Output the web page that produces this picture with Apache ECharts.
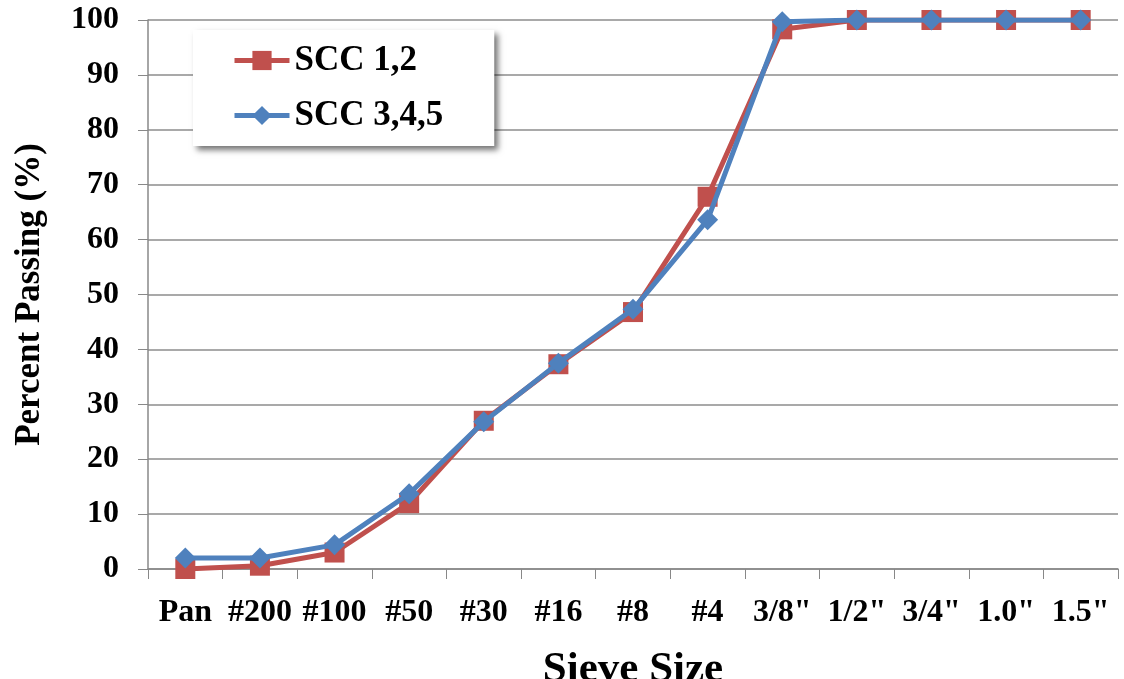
<!DOCTYPE html>
<html><head><meta charset="utf-8">
<script src="https://cdn.jsdelivr.net/npm/echarts@6/dist/echarts.min.js"></script>
<style>html,body{margin:0;padding:0;background:#fff}#c{width:1124px;height:679px}</style>
</head><body><div id="c"></div>
<script>
const categories = ['Pan', '#200', '#100', '#50', '#30', '#16', '#8', '#4', '3/8"', '1/2"', '3/4"', '1.0"', '1.5"'];
const scc12 = [0, 0.6, 3.0, 12.0, 27.0, 37.3, 46.8, 67.8, 98.3, 100, 100, 100, 100];
const scc345 = [2.0, 2.0, 4.4, 13.7, 26.8, 37.5, 47.3, 63.6, 99.7, 100, 100, 100, 100];
const yTicks = [0, 10, 20, 30, 40, 50, 60, 70, 80, 90, 100];

const serif = '"Liberation Serif", "DejaVu Serif", serif';
const chart = echarts.init(document.getElementById('c'));
chart.setOption({
  animation: false,
  backgroundColor: '#fff',
  grid: { left: 148, right: 6, top: 20, bottom: 110, outerBoundsMode: 'none', containLabel: false },
  legend: {
    orient: 'vertical',
    left: 193, top: 30,
    padding: [13, 51, 13, 39],
    itemGap: 20,
    itemWidth: 55, itemHeight: 24,
    backgroundColor: '#fff',
    shadowColor: 'rgba(0,0,0,0.55)', shadowBlur: 6, shadowOffsetX: 4, shadowOffsetY: 4,
    lineStyle: { width: 5 },
    textStyle: { fontFamily: serif, fontWeight: 'bold', fontSize: 35, color: '#000' },
    data: ['SCC 1,2', 'SCC 3,4,5']
  },
  xAxis: {
    type: 'category',
    data: categories,
    boundaryGap: true,
    name: 'Sieve Size',
    nameLocation: 'middle',
    nameGap: 79,
    nameTextStyle: { fontFamily: serif, fontWeight: 'bold', fontSize: 43, color: '#000' },
    axisLine: { lineStyle: { color: '#888', width: 1.5 } },
    axisTick: { show: true, length: 10, lineStyle: { color: '#888' } },
    axisLabel: { margin: 28, fontFamily: serif, fontWeight: 'bold', fontSize: 32, color: '#000', interval: 0 },
    splitLine: { show: false }
  },
  yAxis: {
    type: 'value',
    min: 0, max: 100, interval: 10,
    name: 'Percent Passing (%)',
    nameLocation: 'middle',
    nameGap: 101,
    nameTextStyle: { fontFamily: serif, fontWeight: 'bold', fontSize: 35, color: '#000' },
    axisLine: { show: true, lineStyle: { color: '#888', width: 1.5 } },
    axisTick: { show: true, length: 10, lineStyle: { color: '#888' } },
    axisLabel: {
      margin: 29, fontFamily: serif, fontWeight: 'bold', fontSize: 32, color: '#000',
      formatter: v => yTicks.includes(v) ? String(v) : ''
    },
    splitLine: { show: true, lineStyle: { color: '#8c8c8c', width: 1.5 } }
  },
  series: [
    {
      name: 'SCC 1,2', type: 'line', data: scc12,
      symbol: 'rect', symbolSize: 20,
      itemStyle: { color: '#C0504D' },
      lineStyle: { color: '#C0504D', width: 5 },
      z: 2
    },
    {
      name: 'SCC 3,4,5', type: 'line', data: scc345,
      symbol: 'diamond', symbolSize: 21,
      itemStyle: { color: '#4F81BD' },
      lineStyle: { color: '#4F81BD', width: 5 },
      z: 3
    }
  ]
});
</script></body></html>
